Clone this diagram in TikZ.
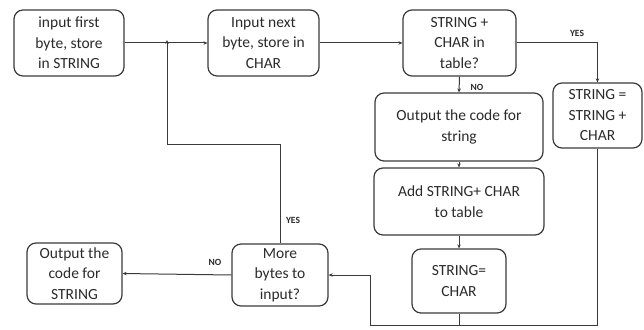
\documentclass[tikz,border=0pt]{standalone}
\usepackage{fontspec}
\setmainfont{Carlito}
\usetikzlibrary{arrows.meta}
\definecolor{ink}{HTML}{3A3A3A}
\definecolor{txt}{HTML}{2A2A2A}
\tikzset{
  procbox/.style={draw=ink, line width=1.2pt, rounded corners=9pt, align=center,
    font=\fontsize{15.5}{20.5}\selectfont, text=txt, inner sep=0pt},
  flow/.style={draw=ink, line width=1pt, -{Stealth[length=4pt,width=3.5pt]}},
  plain/.style={draw=ink, line width=1pt},
  tag/.style={font=\fontsize{9.5}{10}\selectfont\bfseries, text=txt}
}
\begin{document}
\begin{tikzpicture}[x=1pt, y=-1pt]
  \useasboundingbox (0,0) rectangle (644,329);

  % process boxes
  \node[procbox, minimum width=110pt, minimum height=66pt] (first) at (69,43)
    {input first\\byte, store\\in STRING};
  \node[procbox, minimum width=111pt, minimum height=66pt] (next) at (263.5,43)
    {Input next\\byte, store in\\CHAR};
  \node[procbox, minimum width=113pt, minimum height=66pt] (intable) at (459.5,43)
    {STRING +\\CHAR in\\table?};
  \node[procbox, minimum width=89pt, minimum height=65pt] (extend) at (597.5,115.5)
    {STRING =\\STRING +\\CHAR};
  \node[procbox, minimum width=168pt, minimum height=68pt] (outcode) at (459,127)
    {Output the code for\\string};
  \node[procbox, minimum width=170pt, minimum height=67pt] (addtab) at (459,201.5)
    {Add STRING+ CHAR\\to table};
  \node[procbox, minimum width=94pt, minimum height=64pt] (reset) at (459,281)
    {STRING=\\CHAR};
  \node[procbox, minimum width=96pt, minimum height=62pt] (more) at (280,275)
    {More\\bytes to\\input?};
  \node[procbox, minimum width=95pt, minimum height=61pt] (final) at (74.5,273.5)
    {Output the\\code for\\STRING};

  % routing points
  \coordinate (loop) at (370,325);
  \coordinate (back) at (167,144);

  % connectors
  \draw[flow] (first.east) -- (next.west);
  \draw[flow] (next.east) -- (intable.west);
  \draw[flow] (intable.east) -| (extend.north);
  \draw[flow] (intable.south) -- (outcode.north);
  \draw[flow] (outcode.south) -- (addtab.north);
  \draw[flow] (addtab.south) -- (reset.north);
  \draw[plain] (reset.south) -- (reset.south |- loop);
  \draw[flow] (extend.south) |- (loop) |- (more.east);
  \draw[flow] (more.north) |- (back) -- ([yshift=3pt]back |- first.east);
  \draw[flow] (more.west) -- (final.east);

  % branch labels
  \node[tag] (yes1) at (577,33) {YES};
  \node[tag] (no1) at (477,87) {NO};
  \node[tag] (yes2) at (293,220) {YES};
  \node[tag] (no2) at (215,262) {NO};
\end{tikzpicture}
\end{document}
